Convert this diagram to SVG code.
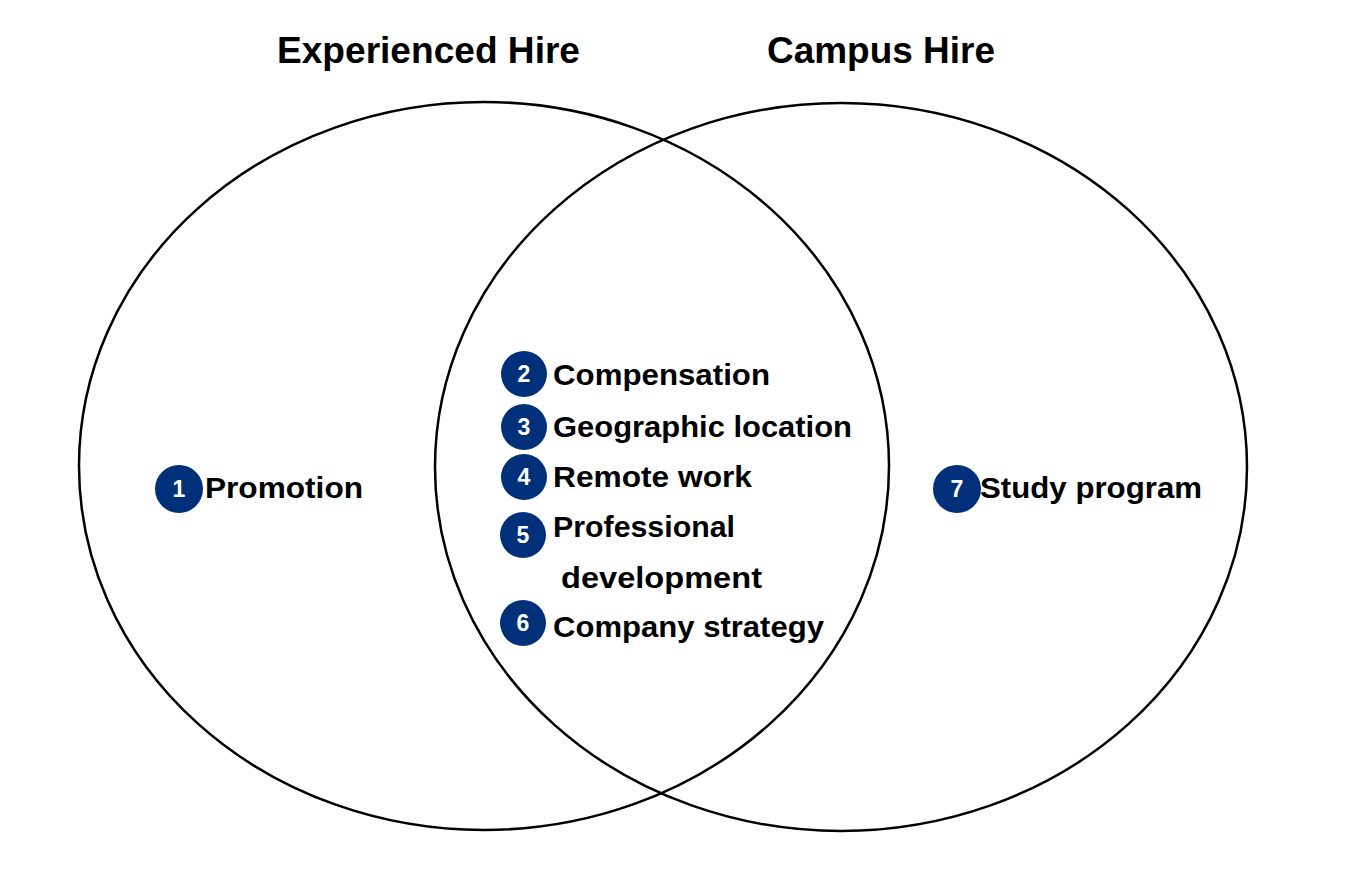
<svg xmlns="http://www.w3.org/2000/svg" width="1372" height="876" viewBox="0 0 1372 876">
<style>
.ell{fill:none;stroke:#000;stroke-width:2.5}
.t{font-family:"Liberation Sans",Arial,sans-serif;font-weight:bold;fill:#000}
.title{font-size:36px}
.lbl{font-size:30px}
.dot{fill:#00307A}
.num{font-family:"Liberation Sans",Arial,sans-serif;font-weight:bold;font-size:23px;fill:#fff;text-anchor:middle}
</style>
<rect width="1372" height="876" fill="#fff"/>
<g id="sets">
<ellipse id="experienced" class="ell" cx="484" cy="466" rx="405" ry="364"/>
<ellipse id="campus" class="ell" cx="841" cy="467" rx="406" ry="364"/>
</g>
<g id="titles">
<text class="t title" x="277" y="63" textLength="303" lengthAdjust="spacingAndGlyphs">Experienced Hire</text>
<text class="t title" x="767" y="63" textLength="228" lengthAdjust="spacingAndGlyphs">Campus Hire</text>
</g>
<g id="item1">
<circle class="dot" cx="179" cy="489" r="24"/>
<text class="num" x="179" y="497">1</text>
<text class="t lbl" x="205" y="498" textLength="158" lengthAdjust="spacingAndGlyphs">Promotion</text>
</g>
<g id="item2">
<circle class="dot" cx="524" cy="374" r="23"/>
<text class="num" x="524" y="382">2</text>
<text class="t lbl" x="553" y="385" textLength="217" lengthAdjust="spacingAndGlyphs">Compensation</text>
</g>
<g id="item3">
<circle class="dot" cx="524" cy="427" r="23"/>
<text class="num" x="524" y="435">3</text>
<text class="t lbl" x="553" y="437" textLength="299" lengthAdjust="spacingAndGlyphs">Geographic location</text>
</g>
<g id="item4">
<circle class="dot" cx="524" cy="477" r="23"/>
<text class="num" x="524" y="485">4</text>
<text class="t lbl" x="553" y="487" textLength="199" lengthAdjust="spacingAndGlyphs">Remote work</text>
</g>
<g id="item5">
<circle class="dot" cx="523" cy="535" r="23"/>
<text class="num" x="523" y="543">5</text>
<text class="t lbl" x="553" y="537" textLength="182" lengthAdjust="spacingAndGlyphs">Professional</text>
<text class="t lbl" x="561" y="588" textLength="201" lengthAdjust="spacingAndGlyphs">development</text>
</g>
<g id="item6">
<circle class="dot" cx="523" cy="623" r="23"/>
<text class="num" x="523" y="631">6</text>
<text class="t lbl" x="553" y="637" textLength="271" lengthAdjust="spacingAndGlyphs">Company strategy</text>
</g>
<g id="item7">
<circle class="dot" cx="957" cy="489" r="24"/>
<text class="num" x="957" y="497">7</text>
<text class="t lbl" x="980" y="498" textLength="222" lengthAdjust="spacingAndGlyphs">Study program</text>
</g>
<g id="connectors"></g>
</svg>
